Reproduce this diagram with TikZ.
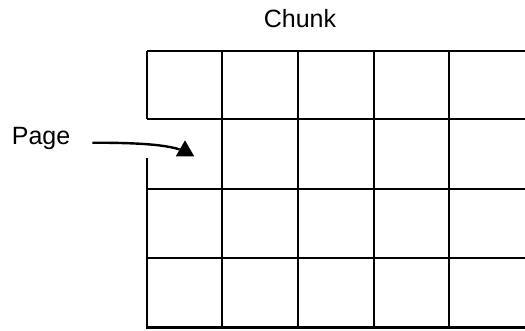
\documentclass[tikz,border=0pt]{standalone}
\usepackage{fontspec}
\setmainfont{Liberation Sans}
\usetikzlibrary{calc,shapes.geometric}

\begin{document}
\begin{tikzpicture}[
    x=1pt, y=-1pt,
    label/.style={font=\fontsize{25}{30}\selectfont, inner sep=0pt},
    gridline/.style={line width=1.7pt},
    marker/.style={isosceles triangle, isosceles triangle apex angle=60, shape border rotate=94, minimum height=16pt, inner sep=0pt, fill=black},
    pointer/.style={line width=2.4pt}
]
\useasboundingbox (0,0) rectangle (525,330);

% chunk made of pages
\begin{scope}
\clip (0,0) rectangle (525,330);
\foreach \y in {50.7,119,188.7,257.7}
    \draw[gridline] (146.7,\y) -- (540,\y);
\foreach \x in {222.3,298,373.7,449.3}
    \draw[gridline] (\x,50.7) -- (\x,326.7);
\draw[gridline] (146.7,50.7) -- (146.7,119);
\draw[gridline] (146.7,158) -- (146.7,327);
\draw[line width=3pt] (146,327) -- (540,327);
\end{scope}

\node[label, anchor=base] (chunk) at (300,27.3) {Chunk};
\node[label, anchor=base west] (page) at (11.7,144) {Page};
\node[marker] (tip) at (185,151) {};

\draw[pointer] ($(page.base east)+(22,-1.3)$) .. controls +(50,0) and (165,145) .. (tip);
\end{tikzpicture}
\end{document}
